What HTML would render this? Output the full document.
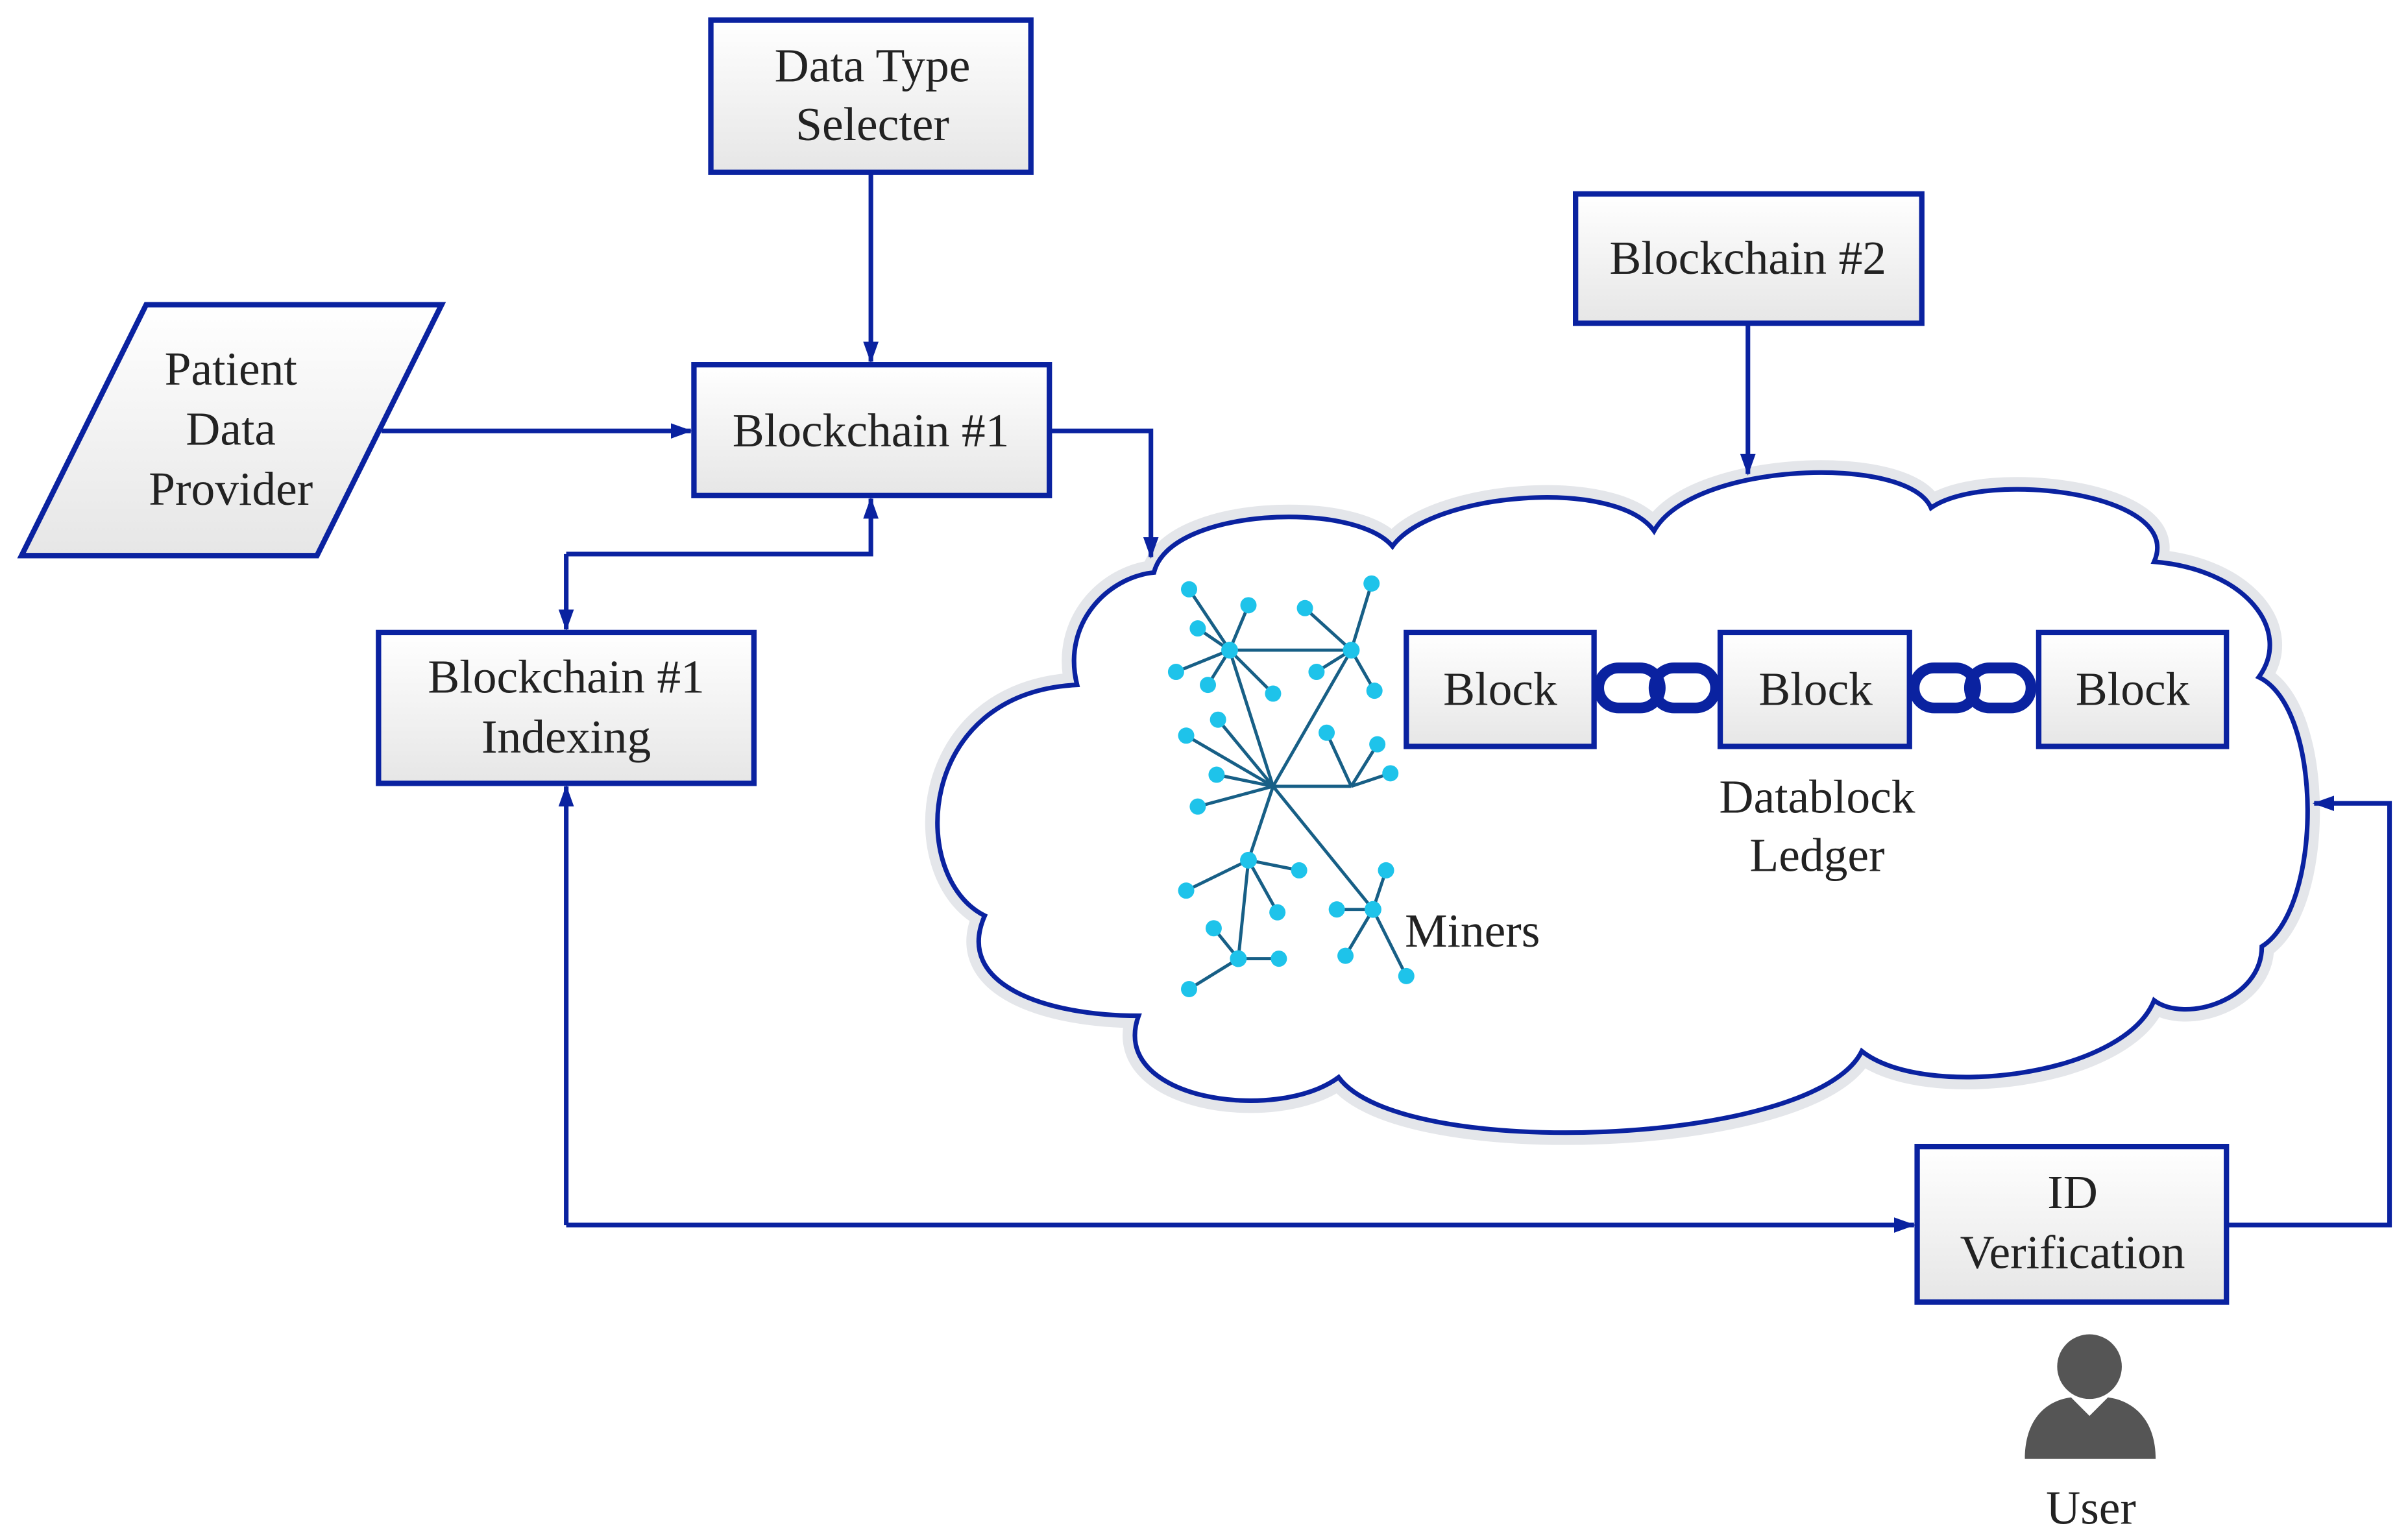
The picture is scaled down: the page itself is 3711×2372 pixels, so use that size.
<!DOCTYPE html>
<html><head><meta charset="utf-8"><style>
html,body{margin:0;padding:0;background:#fff}
svg{display:block}
text{font-family:"Liberation Serif","DejaVu Serif",serif;font-size:31px;fill:#222;text-anchor:middle}
</style></head><body>
<svg width="3711" height="2372" viewBox="0 0 1565 1000" preserveAspectRatio="none" xmlns="http://www.w3.org/2000/svg">
<defs>
<linearGradient id="g" x1="0" y1="0" x2="0" y2="1"><stop offset="0" stop-color="#ffffff"/><stop offset="1" stop-color="#e6e6e6"/></linearGradient>
<marker id="a" markerWidth="14" markerHeight="12" refX="13" refY="6" orient="auto" markerUnits="userSpaceOnUse"><path d="M0,1 L14,6 L0,11 z" fill="#0a22a0"/></marker>
</defs>
<path d="M750,372 C760,330 880,325 905,355 C930,320 1050,310 1075,345 C1100,300 1240,295 1255,330 C1290,305 1420,320 1400,365 C1460,370 1490,410 1468,440 C1510,460 1510,590 1470,615 C1470,650 1420,665 1400,650 C1380,700 1250,715 1210,683 C1180,745 910,755 870,700 C830,730 720,715 740,660 C680,660 620,640 640,595 C590,570 595,450 700,445 C690,405 720,375 750,372 Z" fill="none" stroke="#e4e6ea" stroke-width="16"/>
<path d="M750,372 C760,330 880,325 905,355 C930,320 1050,310 1075,345 C1100,300 1240,295 1255,330 C1290,305 1420,320 1400,365 C1460,370 1490,410 1468,440 C1510,460 1510,590 1470,615 C1470,650 1420,665 1400,650 C1380,700 1250,715 1210,683 C1180,745 910,755 870,700 C830,730 720,715 740,660 C680,660 620,640 640,595 C590,570 595,450 700,445 C690,405 720,375 750,372 Z" fill="#fff" stroke="#0a22a0" stroke-width="3"/>

<g fill="url(#g)" stroke="#0a22a0" stroke-width="3.5">
<rect x="462" y="13" width="208" height="99"/>
<rect x="1024" y="126" width="225" height="84"/>
<polygon points="95,198 287,198 206,361 14,361"/>
<rect x="451" y="237" width="231" height="85"/>
<rect x="246" y="411" width="244" height="98"/>
<rect x="1246" y="745" width="201" height="101"/>
<rect x="914" y="411" width="122" height="74"/>
<rect x="1118" y="411" width="123" height="74"/>
<rect x="1325" y="411" width="122" height="74"/>
</g>
<g fill="none" stroke="#0a22a0">
<rect x="1039" y="434" width="40" height="26" rx="13" stroke-width="7"/>
<rect x="1075" y="434" width="40" height="26" rx="13" stroke-width="7"/>
<rect x="1244" y="434" width="40" height="26" rx="13" stroke-width="7"/>
<rect x="1280" y="434" width="40" height="26" rx="13" stroke-width="7"/>
</g>
<g fill="none" stroke="#0a22a0" stroke-width="3">
<path d="M566,112 V235" marker-end="url(#a)"/>
<path d="M248,280 H449" marker-end="url(#a)"/>
<path d="M682,280 H748 V362" marker-end="url(#a)"/>
<path d="M1136,210 V308" marker-end="url(#a)"/>
<path d="M368,360 H566 V324" marker-end="url(#a)"/>
<path d="M368,360 V409" marker-end="url(#a)"/>
<path d="M368,796 V511" marker-end="url(#a)"/>
<path d="M368,796 H1244" marker-end="url(#a)"/>
<path d="M1447,796 H1553 V522 H1504" marker-end="url(#a)"/>
</g>
<g transform="scale(0.4217) translate(1750,850) scale(0.4464)">
<g stroke="#175f86" stroke-width="11">
<path d="M325,340 L745,340 M325,340 L475,810 M745,340 L475,810 M475,810 L745,810 M475,810 L390,1065 M475,810 L820,1235 M390,1065 L355,1405"/>
<path d="M325,340 L185,130 M325,340 L390,185 M325,340 L215,265 M325,340 L140,415 M325,340 L250,460 M325,340 L475,490 M745,340 L815,110 M745,340 L585,195 M745,340 L625,415 M745,340 L825,480 M475,810 L175,635 M475,810 L285,580 M475,810 L280,770 M475,810 L215,880 M745,810 L660,625 M745,810 L835,665 M745,810 L880,765 M390,1065 L175,1170 M390,1065 L565,1100 M390,1065 L490,1245 M355,1405 L270,1300 M355,1405 L495,1405 M355,1405 L185,1510 M820,1235 L865,1100 M820,1235 L695,1235 M820,1235 L725,1395 M820,1235 L935,1465"/>
</g>
<g fill="#1ec3ea">
<circle cx="325" cy="340" r="29"/><circle cx="745" cy="340" r="29"/><circle cx="390" cy="1065" r="29"/><circle cx="355" cy="1405" r="29"/><circle cx="820" cy="1235" r="29"/>
<circle cx="185" cy="130" r="28"/><circle cx="390" cy="185" r="28"/><circle cx="215" cy="265" r="28"/><circle cx="140" cy="415" r="28"/><circle cx="250" cy="460" r="28"/><circle cx="475" cy="490" r="28"/>
<circle cx="815" cy="110" r="28"/><circle cx="585" cy="195" r="28"/><circle cx="625" cy="415" r="28"/><circle cx="825" cy="480" r="28"/>
<circle cx="175" cy="635" r="28"/><circle cx="285" cy="580" r="28"/><circle cx="280" cy="770" r="28"/><circle cx="215" cy="880" r="28"/>
<circle cx="660" cy="625" r="28"/><circle cx="835" cy="665" r="28"/><circle cx="880" cy="765" r="28"/>
<circle cx="175" cy="1170" r="28"/><circle cx="565" cy="1100" r="28"/><circle cx="490" cy="1245" r="28"/>
<circle cx="270" cy="1300" r="28"/><circle cx="495" cy="1405" r="28"/><circle cx="185" cy="1510" r="28"/>
<circle cx="865" cy="1100" r="28"/><circle cx="695" cy="1235" r="28"/><circle cx="725" cy="1395" r="28"/><circle cx="935" cy="1465" r="28"/>
</g>
</g>
<circle cx="1358" cy="888" r="21" fill="#555"/>
<path d="M1316,948 C1316,922 1330,910 1346,908 L1358,920 L1370,908 C1386,910 1401,922 1401,948 Z" fill="#555"/>
<text x="567" y="53">Data Type</text><text x="567" y="91">Selecter</text>
<text x="1136" y="178">Blockchain #2</text>
<text x="150" y="250">Patient</text><text x="150" y="289">Data</text><text x="150" y="328">Provider</text>
<text x="566" y="290">Blockchain #1</text>
<text x="368" y="450">Blockchain #1</text><text x="368" y="489">Indexing</text>
<text x="975" y="458">Block</text><text x="1180" y="458">Block</text><text x="1386" y="458">Block</text>
<text x="1181" y="528">Datablock</text><text x="1181" y="566">Ledger</text>
<text x="957" y="615">Miners</text>
<text x="1347" y="785">ID</text><text x="1347" y="824">Verification</text>
<text x="1359" y="990">User</text>
</svg>
</body></html>
